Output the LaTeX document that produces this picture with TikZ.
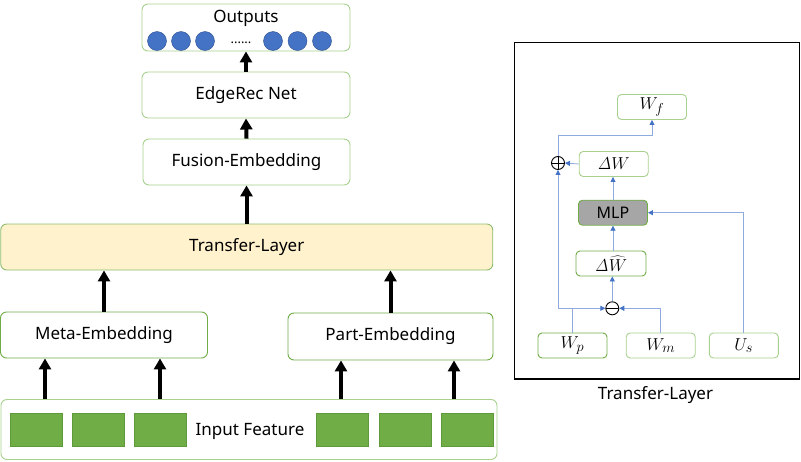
\documentclass[tikz,border=0pt]{standalone}
\usepackage[no-math]{fontspec}
\setmainfont{Noto Sans}
\usetikzlibrary{arrows.meta, positioning, calc}
\definecolor{boxGreen}{HTML}{70AD47}
\definecolor{boxLight}{HTML}{A9D18E}
\definecolor{featDark}{HTML}{5E9A3A}
\definecolor{outBlue}{HTML}{4472C4}
\definecolor{outDark}{HTML}{2F528F}
\definecolor{layerYellow}{HTML}{FFF2CC}
\definecolor{lineBlue}{HTML}{8FAADC}
\definecolor{mlpGray}{HTML}{A6A6A6}
\tikzset{
  arrowK/.style={-{Triangle[length=11pt,width=12pt]}, line width=4pt, black},
  arrowB/.style={-{Triangle[length=5pt,width=5pt,color=outBlue]}, lineBlue, line width=0.8pt},
  boxL/.style={rectangle, rounded corners=6pt, draw=boxGreen, fill=white, line width=0.9pt,
               align=center, inner sep=0pt, font=\fontsize{17}{20}\selectfont},
  boxS/.style={rectangle, rounded corners=4pt, draw=boxGreen, fill=white, line width=0.9pt,
               minimum width=69pt, minimum height=25pt, inner sep=0pt,
               font=\fontsize{19}{22}\selectfont},
  featSq/.style={rectangle, draw=featDark, fill=boxGreen, minimum width=52pt,
                 minimum height=33pt, inner sep=0pt},
  outDot/.style={circle, draw=outDark, fill=outBlue, minimum size=19pt, inner sep=0pt},
  opCirc/.style={circle, draw, line width=0.9pt, minimum size=13pt, inner sep=0pt},
  txtL/.style={font=\fontsize{17}{20}\selectfont, inner sep=0pt},
}

\begin{document}
\begin{tikzpicture}[x=1pt, y=-1pt]
    \useasboundingbox (0,0) rectangle (801,461);
    % left stack
    \node[boxL, draw=boxLight, minimum width=208pt, minimum height=47pt] (out) at (246,27.5) {};
    \node[txtL] (outtxt) at (246,18) {Outputs};
    \foreach \x [count=\i] in {157,181,205,273,297.5,322}
      \node[outDot] (o\i) at (\x,41) {};
    \node[txtL, font=\fontsize{13}{15}\selectfont] (odots) at (241,43) {......};
    \node[boxL, draw=boxLight, minimum width=208pt, minimum height=46pt] (edge) at (246,95) {EdgeRec Net};
    \node[boxL, draw=boxLight, minimum width=207pt, minimum height=46pt] (fusion) at (246.5,162) {Fusion-Embedding};
    \node[boxL, fill=layerYellow, draw=boxGreen!80, minimum width=492pt, minimum height=46pt] (transfer) at (246.75,247) {Transfer-Layer};
    \node[boxL, minimum width=207pt, minimum height=46pt] (meta) at (104,335) {Meta-Embedding};
    \node[boxL, minimum width=205pt, minimum height=47pt] (part) at (390.5,336.5) {Part-Embedding};
    \node[boxL, draw=boxLight, minimum width=496pt, minimum height=60pt] (input) at (249,429.5) {};
    \node[txtL] (intxt) at (250,431) {Input Feature};
    \foreach \x [count=\i] in {36,98.5,160.5,342.5,405,467.5}
      \node[featSq] (f\i) at (\x,429.5) {};

    \draw[arrowK] (edge.north) -- (out.south);
    \draw[arrowK] (fusion.north) -- (edge.south);
    \draw[arrowK] (transfer.north -| fusion.south) -- (fusion.south);
    \draw[arrowK] (meta.north) -- (transfer.south -| meta.north);
    \draw[arrowK] (part.north) -- (transfer.south -| part.north);
    \foreach \x/\t in {45/meta, 160/meta, 341/part, 454/part}
      \draw[arrowK] (input.north -| \x,0) -- (\t.south -| \x,0);

    % transfer layer detail
    \draw[line width=1.2pt] (514.5,42.5) rectangle (799.5,379);
    \node[txtL] (cap) at (655.5,395) {Transfer-Layer};
    \node[boxS, draw=boxLight] (wf) at (652,107) {$W_f$};
    \node[boxS, draw=boxLight] (dw) at (613.7,164) {$\mathit{\Delta} W$};
    \node[boxS, fill=mlpGray, font=\fontsize{16}{19}\selectfont] (mlp) at (613,212.7) {MLP};
    \node[boxS, minimum width=70pt] (dwh) at (611,263.5) {$\mathit{\Delta}\widehat{W}$};
    \node[boxS] (wp) at (572.5,345.5) {$W_p$};
    \node[boxS, draw=boxLight] (wm) at (660.7,345.5) {$W_m$};
    \node[boxS, draw=boxLight] (us) at (743.8,345.5) {$U_s$};
    \node[opCirc, path picture={
        \draw (path picture bounding box.west) -- (path picture bounding box.east);
        \draw (path picture bounding box.north) -- (path picture bounding box.south);}]
      (plus) at (558,163) {};
    \node[opCirc, path picture={
        \draw (path picture bounding box.west) -- (path picture bounding box.east);}]
      (minus) at (612.3,308.3) {};

    \draw[arrowB] (wp.north) |- (minus.west);
    \draw[arrowB] (wp.north |- minus.west) -| (plus.south);
    \draw[arrowB] (wm.north) |- (minus.east);
    \draw[arrowB] (minus.north) -- (dwh.south -| minus.north);
    \draw[arrowB] (dwh.north -| mlp.south) -- (mlp.south);
    \draw[arrowB] (mlp.north) -- (dw.south -| mlp.north);
    \draw[arrowB] (dw.west) -- (plus.east);
    \draw[arrowB] (plus.north) -- ++(0,-20.5) -| (wf.south);
    \draw[arrowB] (us.north) |- (mlp.east);
\end{tikzpicture}
\end{document}
